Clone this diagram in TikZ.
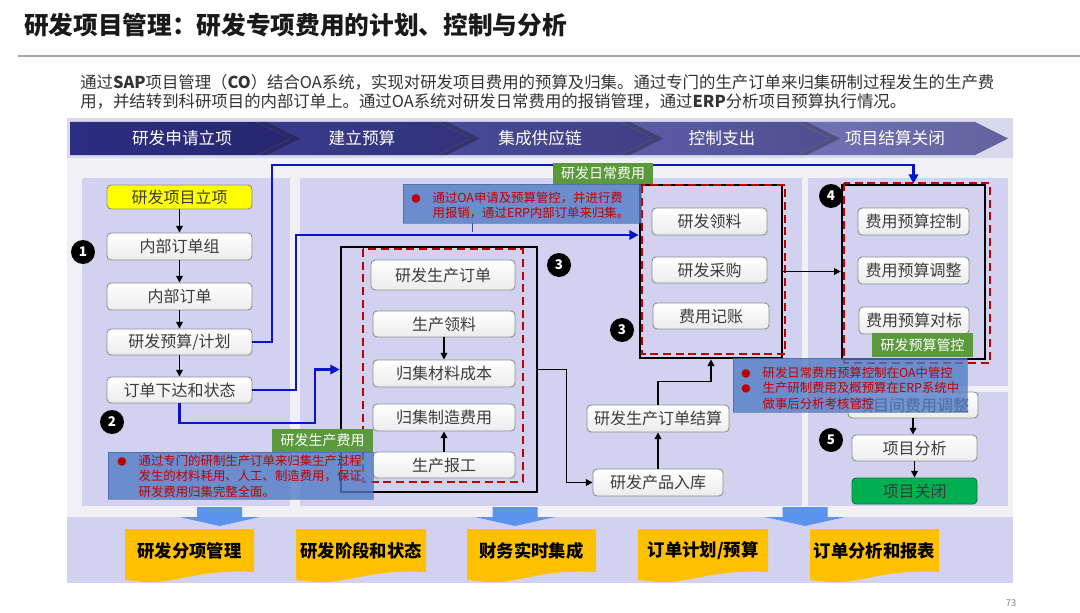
\documentclass[tikz,border=0pt]{standalone}
\usepackage{fontspec}
\setmainfont{Noto Sans CJK SC}
\usetikzlibrary{arrows.meta}
\definecolor{outerbg}{HTML}{F1F1F5}
\definecolor{hdrbg}{HTML}{D9D9EE}
\definecolor{panel}{HTML}{D2D2F0}
\definecolor{boxline}{HTML}{8E8E8E}
\definecolor{boxbot}{HTML}{ECECEC}
\definecolor{boxtxt}{HTML}{3C3C3C}
\definecolor{blueln}{HTML}{0A14C8}
\definecolor{redd}{HTML}{C00000}
\definecolor{calloutc}{HTML}{4F79C4}
\definecolor{greenlab}{HTML}{5B9A3C}
\definecolor{yel}{HTML}{FFC000}
\definecolor{arrowblue}{HTML}{5C93EE}
\definecolor{closegreen}{HTML}{00B050}
\definecolor{chA}{HTML}{2D2E82}
\definecolor{chB}{HTML}{3A3B8E}
\definecolor{chC}{HTML}{4A4B9A}
\definecolor{chD}{HTML}{5C5DA8}
\definecolor{chE}{HTML}{7273B8}
\definecolor{introtxt}{HTML}{333333}
\newcommand\putnode[7][]{\node[#1,minimum width={(#5-#3)*0.75pt},minimum height={(#6-#4)*0.75pt}] (#2) at ({(#3+#5)/2},{(#4+#6)/2}) {#7};}
\newcommand\ydoc[4]{\fill[yel] (#2,529) -- (#3,529) -- (#3,572) .. controls ({#2+0.55*(#3-#2)},569) and ({#2+0.4*(#3-#2)},584) .. ({#2+0.15*(#3-#2)},582) .. controls ({#2+0.07*(#3-#2)},581.5) .. (#2,580) -- cycle;
  \node[ylab] (#1) at ({(#2+#3)/2},551) {#4};}
\newcommand\darr[1]{\fill[arrowblue] ({#1-22.5},507) -- ({#1+22.5},507) -- ({#1+22.5},517) -- ({#1+40},517) -- (#1,526) -- ({#1-40},517) -- ({#1-22.5},517) -- cycle;}
\newcommand\chevtip[4]{\shade[left color=#4, right color=#4!85!black] (#1,122) -- ({#2-33},122) -- (#2,138.5) -- ({#2-33},155) -- (#1,155) \ifx#3n -- ({#1+33},138.5)\fi -- cycle;
  \ifx#3n\fill[black, fill opacity=0.28] (#1,122) -- ({#1+33},138.5) -- (#1,155) -- ({#1+10},155) -- ({#1+43},138.5) -- ({#1+10},122) -- cycle;\fi}
\newcommand\bul{\makebox[16pt][l]{\fontsize{7}{7}\selectfont ●}}
\tikzset{
  box/.style={draw=boxline, rounded corners=3pt, top color=white, bottom color=boxbot, text=boxtxt, font=\fontsize{12}{14}\selectfont, inner sep=0pt, line width=0.7pt},
  blkframe/.style={draw=black, line width=2pt, inner sep=0pt},
  reddash/.style={draw=redd, line width=2pt, dash pattern=on 6pt off 3.5pt},
  num/.style={circle, fill=black, text=white, font=\bfseries\fontsize{10}{10}\selectfont, minimum size=18pt, inner sep=0pt},
  bluearrow/.style={draw=blueln, line width=2.2pt, -{Triangle[length=7pt,width=7pt]}},
  blackarrow/.style={draw=black, line width=1.1pt, -{Triangle[length=5pt,width=5pt]}},
  callout/.style={fill=calloutc, fill opacity=0.78, draw=calloutc!70!black, draw opacity=0.5, line width=0.5pt, inner sep=0pt},
  ctext/.style={text=redd, font=\fontsize{9.3}{11.8}\selectfont, inner sep=0pt, anchor=base west},
  glabel/.style={fill=greenlab, text=white, font=\fontsize{10.5}{12}\selectfont, inner sep=0pt},
  hdr/.style={text=white, font=\fontsize{12.5}{14}\selectfont},
  ylab/.style={font=\bfseries\fontsize{13}{15}\selectfont, text=black},
}
\begin{document}
\begin{tikzpicture}[x=0.75pt,y=-0.75pt]
\useasboundingbox (0,0) rectangle (1080,613);
\fill[white] (0,0) rectangle (1080,613);
% title
\node[anchor=west, font=\bfseries\fontsize{18.5}{20}\selectfont, text=black!90, inner sep=0pt] (title) at (24,25) {研发项目管理：研发专项费用的计划、控制与分析};
\draw[gray!70, line width=1.2pt] (18,56) -- (1080,56);
\node[anchor=west, font=\fontsize{12.3}{14}\selectfont, text=introtxt, inner sep=0pt] (intro1) at (80,82) {通过\textbf{SAP}项目管理（\textbf{CO}）结合OA系统，实现对研发项目费用的预算及归集。通过专门的生产订单来归集研制过程发生的生产费};
\node[anchor=west, font=\fontsize{12.3}{14}\selectfont, text=introtxt, inner sep=0pt] (intro2) at (80,101) {用，并结转到科研项目的内部订单上。通过OA系统对研发日常费用的报销管理，通过\textbf{ERP}分析项目预算执行情况。};
% backgrounds
\fill[outerbg] (67,118) rectangle (1013,583);
\fill[hdrbg] (67,118) rectangle (1013,158);
% chevrons
\chevtip{70}{290}{f}{chA}
\chevtip{257}{470}{n}{chB}
\chevtip{437}{653}{n}{chC}
\chevtip{620}{830}{n}{chD}
\chevtip{797}{1008}{n}{chE}
\node[hdr] (hd1) at (182,138.5) {研发申请立项};
\node[hdr] (hd2) at (362,138.5) {建立预算};
\node[hdr] (hd3) at (540,138.5) {集成供应链};
\node[hdr] (hd4) at (722,138.5) {控制支出};
\node[hdr] (hd5) at (895,138.5) {项目结算关闭};
% panels
\fill[panel] (82,178) rectangle (290,506);
\fill[panel] (300,178) rectangle (802,506);
\fill[panel] (808,178) rectangle (1008,386);
\fill[panel] (808,392) rectangle (1008,506);
\fill[panel] (67,517) rectangle (1013,583);
\darr{219.5}
\darr{515}
\darr{805}
\ydoc{y1}{125}{254}{研发分项管理}
\ydoc{y2}{296}{426}{研发阶段和状态}
\ydoc{y3}{467}{596}{财务实时集成}
\ydoc{y4}{638}{768}{订单计划/预算}
\ydoc{y5}{810}{939}{订单分析和报表}
\node[font=\fontsize{7}{8}\selectfont, text=gray] (pg) at (1011,603) {73};
% frames
\putnode[blkframe]{mbox}{341}{247}{537}{492}{}
\draw[reddash] (363,249) rectangle (523,482);
\putnode[blkframe]{dbox}{640}{185}{782}{358}{}
\draw[reddash] (642,185) rectangle (785,354);
\putnode[blkframe]{rbox}{842}{185}{985}{359}{}
\draw[reddash] (844,183) rectangle (990,363);
% left column
\putnode[box, top color=yellow, bottom color=yellow]{lixiang}{107}{185}{252}{209}{研发项目立项}
\putnode[box]{zu}{107}{233}{252}{260}{内部订单组}
\putnode[box]{dd}{107}{283}{252}{310}{内部订单}
\putnode[box]{ys}{107}{329}{252}{355}{研发预算/计划}
\putnode[box]{xd}{107}{377}{252}{403}{订单下达和状态}
% middle
\putnode[box]{scdd}{371}{260}{515}{290}{研发生产订单}
\putnode[box]{scll}{373}{311}{515}{337}{生产领料}
\putnode[box]{cl}{373}{360}{515}{387}{归集材料成本}
\putnode[box]{zz}{373}{404}{515}{431}{归集制造费用}
\putnode[box]{bg}{373}{452}{515}{478}{生产报工}
\putnode[box]{jiesuan}{587}{405}{729}{432}{研发生产订单结算}
\putnode[box]{ruku}{593}{469}{723}{496}{研发产品入库}
% daily expense
\putnode[box]{ll}{652}{208}{767}{235}{研发领料}
\putnode[box]{cg}{652}{257}{767}{283}{研发采购}
\putnode[box]{jz}{653}{303}{769}{329}{费用记账}
% budget control
\putnode[box]{kz}{858}{208}{969}{235}{费用预算控制}
\putnode[box]{tz}{858}{257}{969}{284}{费用预算调整}
\putnode[box]{db}{859}{307}{969}{334}{费用预算对标}
% closing
\putnode[box]{jtz}{848}{392}{978}{418}{项目间费用调整}
\putnode[box]{fx}{852}{435}{977}{461}{项目分析}
\putnode[box, top color=closegreen, bottom color=closegreen, draw=closegreen!70!black]{gb}{852}{478}{977}{504}{项目关闭}
% numbers
\node[num] (n1) at (83,252) {1};
\node[num] (n2) at (112,422) {2};
\node[num] (n3a) at (559,265) {3};
\node[num] (n3b) at (622,330) {3};
\node[num] (n4) at (831,196) {4};
\node[num] (n5) at (831,440) {5};
% connectors left column
\draw[blackarrow] (lixiang.south) -- (zu.north);
\draw[blackarrow] (zu.south) -- (dd.north);
\draw[blackarrow] (dd.south) -- (ys.north);
\draw[blackarrow] (ys.south) -- (xd.north);
\draw[blackarrow] (scll.south) -- (cl.north);
\draw[blackarrow] (bg.north) -- (zz.south);
\draw[blackarrow] (jtz.south) -- (jtz.south |- fx.north);
\draw[blackarrow] (fx.south) -- (fx.south |- gb.north);
% blue connectors
\coordinate (w1) at (272,165);
\coordinate (w2) at (296,235);
\coordinate (w3) at (315,423);
\draw[bluearrow] (ys.east) -| (w1) -| (rbox.north);
\draw[bluearrow] (xd.east) -| (w2) -- (w2 -| dbox.west);
\draw[bluearrow] (xd.south) |- (w3) |- (mbox.west);
% black connectors
\draw[blackarrow] (mbox.east) -- ++(28,0) |- (ruku.west);
\draw[blackarrow] (ruku.north) -- (jiesuan.south);
\draw[blackarrow] (jiesuan.north) -- ++(0,-23) -| (dbox.south);
\draw[blackarrow] (dbox.east) -- (dbox.east -| rbox.west);
% callouts
\putnode[callout]{ca}{403}{184}{641}{223}{}
\draw[calloutc!70!black, line width=0.6pt] (472,223) -- (472,232);
\node[ctext] (cat) at (411,202) {\begin{tabular}[t]{@{}l@{}l@{}}\bul & 通过OA申请及预算管控，并进行费\\ & 用报销，通过ERP内部订单来归集。\end{tabular}};
\putnode[glabel]{la}{553}{163}{653}{184}{研发日常费用}
\putnode[callout]{cb}{108}{452}{373}{499}{}
\node[ctext] (cbt) at (117,465) {\begin{tabular}[t]{@{}l@{}l@{}}\bul & 通过专门的研制生产订单来归集生产过程\\ & 发生的材料耗用、人工、制造费用，保证\\ & 研发费用归集完整全面。\end{tabular}};
\putnode[glabel]{lb}{272}{429}{373}{452}{研发生产费用}
\putnode[callout]{cc}{733}{358}{967}{412}{}
\node[ctext] (cct) at (741,377) {\begin{tabular}[t]{@{}l@{}l@{}}\bul & 研发日常费用预算控制在OA中管控\\ \bul & 生产研制费用及概预算在ERP系统中\\ & 做事后分析考核管控\end{tabular}};
\putnode[glabel]{lc}{872}{333}{973}{357}{研发预算管控}
\end{tikzpicture}
\end{document}
